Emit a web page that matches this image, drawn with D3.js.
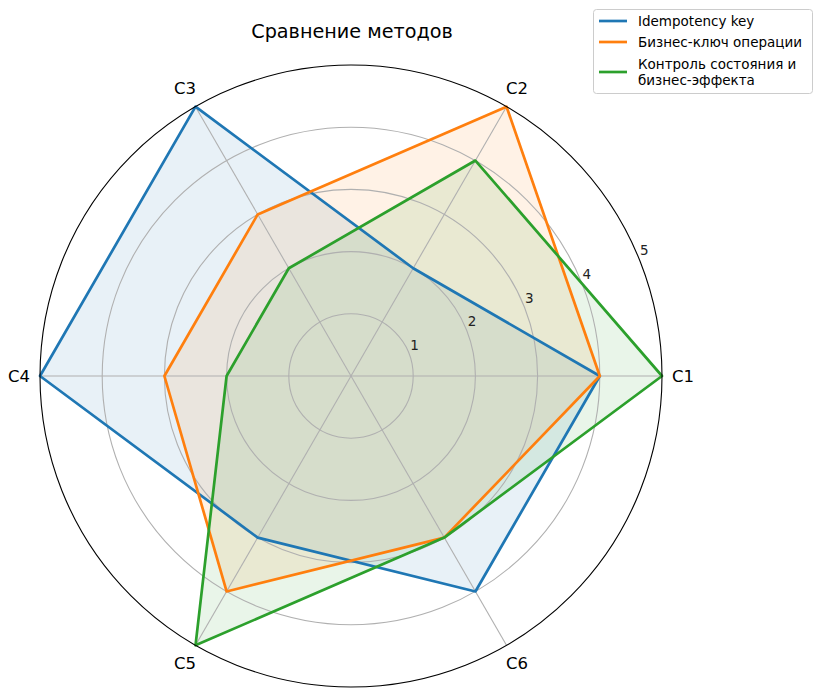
<!DOCTYPE html>
<html>
<head>
<meta charset="utf-8">
<script src="https://cdn.jsdelivr.net/npm/d3@7"></script>
<style>
  body { margin: 0; background: #fff; }
  svg { font-family: "DejaVu Sans", sans-serif; }
</style>
</head>
<body>
<div id="chart"></div>
<script>
// categories and values
var categories = ["C1", "C2", "C3", "C4", "C5", "C6"];
var seriesNames = ["Idempotency key", "Бизнес-ключ операции", "Контроль состояния и\nбизнес-эффекта"];
var idempotencyValues = [4, 2, 5, 5, 3, 4];
var businessKeyValues = [4, 5, 3, 3, 4, 3];
var stateControlValues = [5, 4, 2, 2, 5, 3];
var rTicks = [1, 2, 3, 4, 5];
var colors = ["#1f77b4", "#ff7f0e", "#2ca02c"];

var width = 822, height = 698;
var cx = 351, cy = 376, radius = 311;

var svg = d3.select("#chart").append("svg")
    .attr("width", width)
    .attr("height", height);

var r = d3.scaleLinear().domain([0, 5]).range([0, radius]);
// angle scale, counterclockwise from the right like matplotlib polar
var angle = d3.scaleLinear().domain([0, categories.length]).range([0, 2 * Math.PI]);

function px(i, v) { return cx + r(v) * Math.cos(angle(i)); }
function py(i, v) { return cy - r(v) * Math.sin(angle(i)); }

var g = svg.append("g");

// fills and lines
var series = [idempotencyValues, businessKeyValues, stateControlValues];
var line = d3.line()
    .x(function (d) { return px(d.i, d.v); })
    .y(function (d) { return py(d.i, d.v); })
    .curve(d3.curveLinearClosed);

series.forEach(function (vals, k) {
    var pts = vals.map(function (v, i) { return { i: i, v: v }; });
    g.append("path")
        .attr("d", line(pts))
        .attr("fill", colors[k])
        .attr("fill-opacity", 0.1)
        .attr("stroke", "none");
});

// grid rings
g.selectAll("circle.ring")
    .data(rTicks.slice(0, -1))
    .enter().append("circle")
    .attr("cx", cx).attr("cy", cy)
    .attr("r", function (d) { return r(d); })
    .attr("fill", "none")
    .attr("stroke", "#b0b0b0")
    .attr("stroke-width", 1.1);

// spokes
g.selectAll("line.spoke")
    .data(categories)
    .enter().append("line")
    .attr("x1", cx).attr("y1", cy)
    .attr("x2", function (d, i) { return px(i, 5); })
    .attr("y2", function (d, i) { return py(i, 5); })
    .attr("stroke", "#b0b0b0")
    .attr("stroke-width", 1.1);

series.forEach(function (vals, k) {
    var pts = vals.map(function (v, i) { return { i: i, v: v }; });
    g.append("path")
        .attr("d", line(pts))
        .attr("fill", "none")
        .attr("stroke", colors[k])
        .attr("stroke-width", 2.7)
        .attr("stroke-linejoin", "round");
});

// outer spine
g.append("circle")
    .attr("cx", cx).attr("cy", cy)
    .attr("r", r(5))
    .attr("fill", "none")
    .attr("stroke", "#000")
    .attr("stroke-width", 1.1);

// radial tick labels at 22.5 degrees
var labAng = 22.5 * Math.PI / 180;
g.selectAll("text.rtick")
    .data(rTicks)
    .enter().append("text")
    .attr("x", function (d) { return cx + r(d) * Math.cos(labAng) + 6; })
    .attr("y", function (d) { return cy - r(d) * Math.sin(labAng) - 7; })
    .attr("text-anchor", "middle")
    .attr("dominant-baseline", "central")
    .attr("font-size", 13.5)
    .attr("fill", "#222")
    .text(function (d) { return d; });

// category labels
g.selectAll("text.cat")
    .data(categories)
    .enter().append("text")
    .attr("x", function (d, i) { return cx + 332 * Math.cos(angle(i)); })
    .attr("y", function (d, i) { return cy - 332 * Math.sin(angle(i)); })
    .attr("text-anchor", "middle")
    .attr("dominant-baseline", "central")
    .attr("font-size", 16.5)
    .attr("fill", "#000")
    .text(function (d) { return d; });

// title
svg.append("text")
    .attr("x", 352).attr("y", 38)
    .attr("text-anchor", "middle")
    .attr("font-size", 19.2)
    .attr("fill", "#000")
    .text("Сравнение методов");

// legend
var legend = svg.append("g").attr("transform", "translate(593,9)");
legend.append("rect")
    .attr("x", 0.5).attr("y", 0.5)
    .attr("width", 219).attr("height", 84)
    .attr("rx", 3)
    .attr("fill", "#fff")
    .attr("fill-opacity", 0.8)
    .attr("stroke", "#cccccc")
    .attr("stroke-width", 1);

var rowY = [12, 33, 55];
seriesNames.forEach(function (name, k) {
    var lines = name.split("\n");
    var y0 = rowY[k];
    var lineY = lines.length > 1 ? y0 + 8 : y0;
    legend.append("line")
        .attr("x1", 6).attr("x2", 34)
        .attr("y1", lineY).attr("y2", lineY)
        .attr("stroke", colors[k])
        .attr("stroke-width", 2.7);
    var t = legend.append("text")
        .attr("x", 45).attr("y", y0)
        .attr("font-size", 13.5)
        .attr("fill", "#000")
        .attr("dominant-baseline", "central");
    lines.forEach(function (s, j) {
        t.append("tspan")
            .attr("x", 45)
            .attr("dy", j === 0 ? 0 : 16)
            .text(s);
    });
});
</script>
</body>
</html>
